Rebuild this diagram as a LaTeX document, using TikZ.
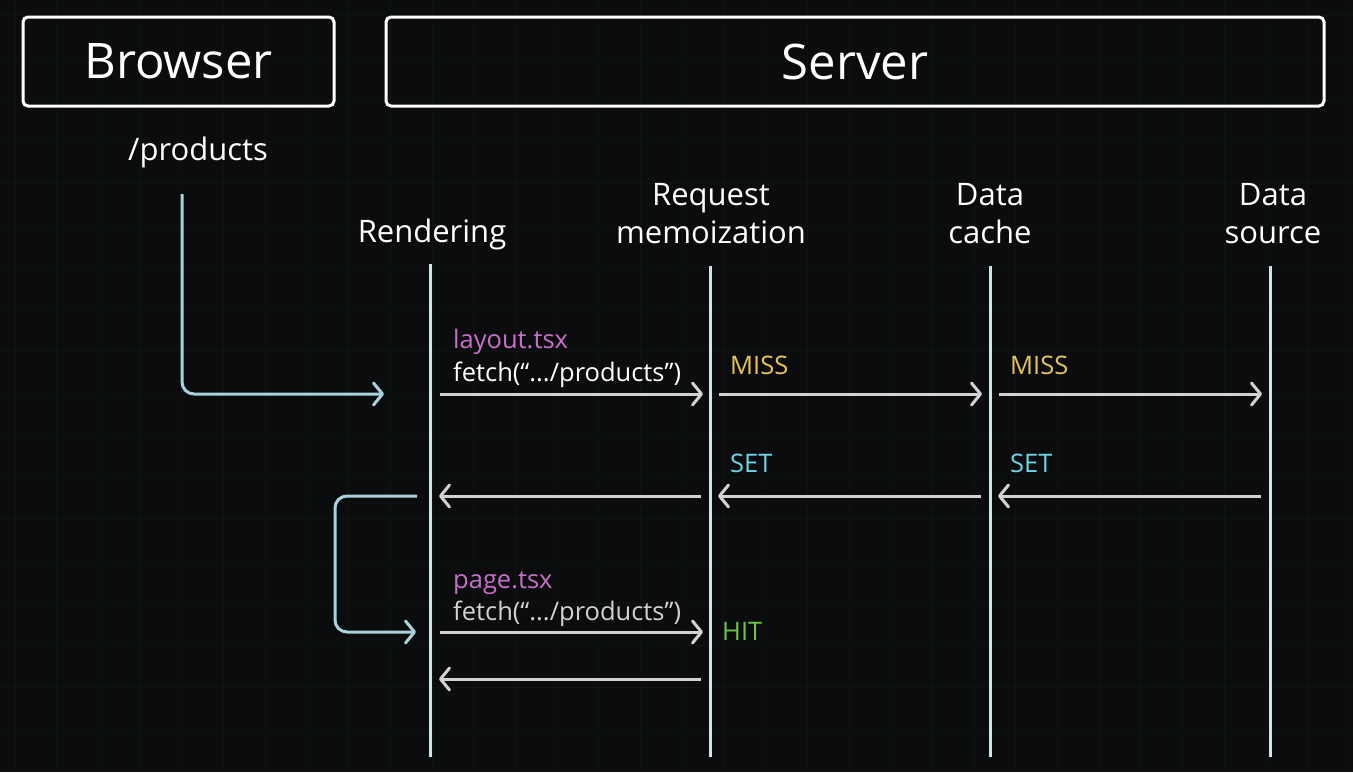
\documentclass[tikz,border=0pt]{standalone}
\usepackage{fontspec}
\setmainfont{Open Sans}
\usetikzlibrary{arrows.meta}
\definecolor{bg}{HTML}{0A0C0D}
\definecolor{gridc}{HTML}{0F1213}
\definecolor{life}{HTML}{CDE4E8}
\definecolor{flow}{HTML}{A9D3DC}
\definecolor{msg}{HTML}{D2D2D2}
\definecolor{pinkc}{HTML}{C96FC9}
\definecolor{missc}{HTML}{E8C25A}
\definecolor{setc}{HTML}{6FD5E5}
\definecolor{hitc}{HTML}{6CC24A}
\tikzset{
  hbox/.style={draw=white, line width=3pt, rounded corners=5pt, text=white, font=\fontsize{49}{52}\selectfont},
  head/.style={text=white, font=\fontsize{31}{38}\selectfont, align=center, anchor=base, inner sep=0pt},
  lifeline/.style={draw=life, line width=3pt},
  msgarrow/.style={draw=msg, line width=3pt, -{Straight Barb[length=9pt,width=22pt,line width=3pt,round]}},
  flowarrow/.style={draw=flow, line width=3pt, rounded corners=12pt, -{Straight Barb[length=9pt,width=22pt,line width=3pt,round]}},
  small/.style={font=\fontsize{25.5}{28}\selectfont, anchor=base west, inner sep=0pt},
}
\begin{document}
\begin{tikzpicture}[x=1pt,y=-1pt]
\fill[bg] (0,0) rectangle (1353,772);
\useasboundingbox (0,0) rectangle (1353,772);
% faint background grid
\foreach \i in {0,...,32} {\draw[gridc, line width=1pt] (15+41.7*\i,0) -- (15+41.7*\i,772);}
\foreach \j in {0,...,18} {\draw[gridc, line width=1pt] (0,15+42*\j) -- (1353,15+42*\j);}
% header boxes
\node[hbox, minimum width=311pt, minimum height=89pt] (browser) at (178.5,61.5) {Browser};
\node[hbox, minimum width=938pt, minimum height=89pt] (server) at (855,61.5) {Server};
\node[head] (path) at (198,160) {/products};
% column heads
\node[head] (rend) at (432,242) {Rendering};
\node[head] (memo) at (711,243) {memoization};
\node[head] (memo2) at (711,205) {Request};
\node[head] (cache) at (990,243) {cache};
\node[head] (cache2) at (990,205) {Data};
\node[head] (src) at (1273,243) {source};
\node[head] (src2) at (1273,205) {Data};
% lifelines
\coordinate (rT) at (430,264); \coordinate (rB) at (430,757);
\coordinate (mT) at (710,266); \coordinate (mB) at (710,757);
\coordinate (cT) at (990,266); \coordinate (cB) at (990,757);
\coordinate (sT) at (1270,266); \coordinate (sB) at (1270,757);
\draw[lifeline] (rT) -- (rB);
\draw[lifeline] (mT) -- (mB);
\draw[lifeline] (cT) -- (cB);
\draw[lifeline] (sT) -- (sB);
% browser request
\coordinate (p0) at (182,194);
\coordinate (p1) at (384,394);
\draw[flowarrow] (p0) |- (p1);
% row 1
\coordinate (a1) at (440,394); \coordinate (a2) at (703,394);
\coordinate (a3) at (719,394); \coordinate (a4) at (982,394);
\coordinate (a5) at (999,394); \coordinate (a6) at (1262,394);
\draw[msgarrow] (a1) -- (a2);
\draw[msgarrow] (a3) -- (a4);
\draw[msgarrow] (a5) -- (a6);
\node[small, text=pinkc] (lay) at (453,348) {layout.tsx};
\node[small, text=white] (f1) at (453,381) {fetch(“.../products”)};
\node[small, text=missc] (miss1) at (730,374) {MISS};
\node[small, text=missc] (miss2) at (1010,374) {MISS};
% row 2
\coordinate (b1) at (1261,496); \coordinate (b2) at (998,496);
\coordinate (b3) at (981,496); \coordinate (b4) at (718,496);
\coordinate (b5) at (701,496); \coordinate (b6) at (439,496);
\draw[msgarrow] (b1) -- (b2);
\draw[msgarrow] (b3) -- (b4);
\draw[msgarrow] (b5) -- (b6);
\node[small, text=setc] (set1) at (730,472) {SET};
\node[small, text=setc] (set2) at (1010,472) {SET};
% loop
\coordinate (l0) at (417,496);
\coordinate (l2) at (416,632);
\draw[flowarrow] (l0) -- (335,496) -- (335,632) -- (l2);
% row 3
\coordinate (c1) at (440,632); \coordinate (c2) at (703,632);
\draw[msgarrow] (c1) -- (c2);
\node[small, text=pinkc] (pg) at (453,588) {page.tsx};
\node[small, text=msg] (f2) at (453,620) {fetch(“.../products”)};
\node[small, text=hitc] (hit) at (722,640) {HIT};
% row 4
\coordinate (d1) at (701,679); \coordinate (d2) at (439,679);
\draw[msgarrow] (d1) -- (d2);
\end{tikzpicture}
\end{document}
